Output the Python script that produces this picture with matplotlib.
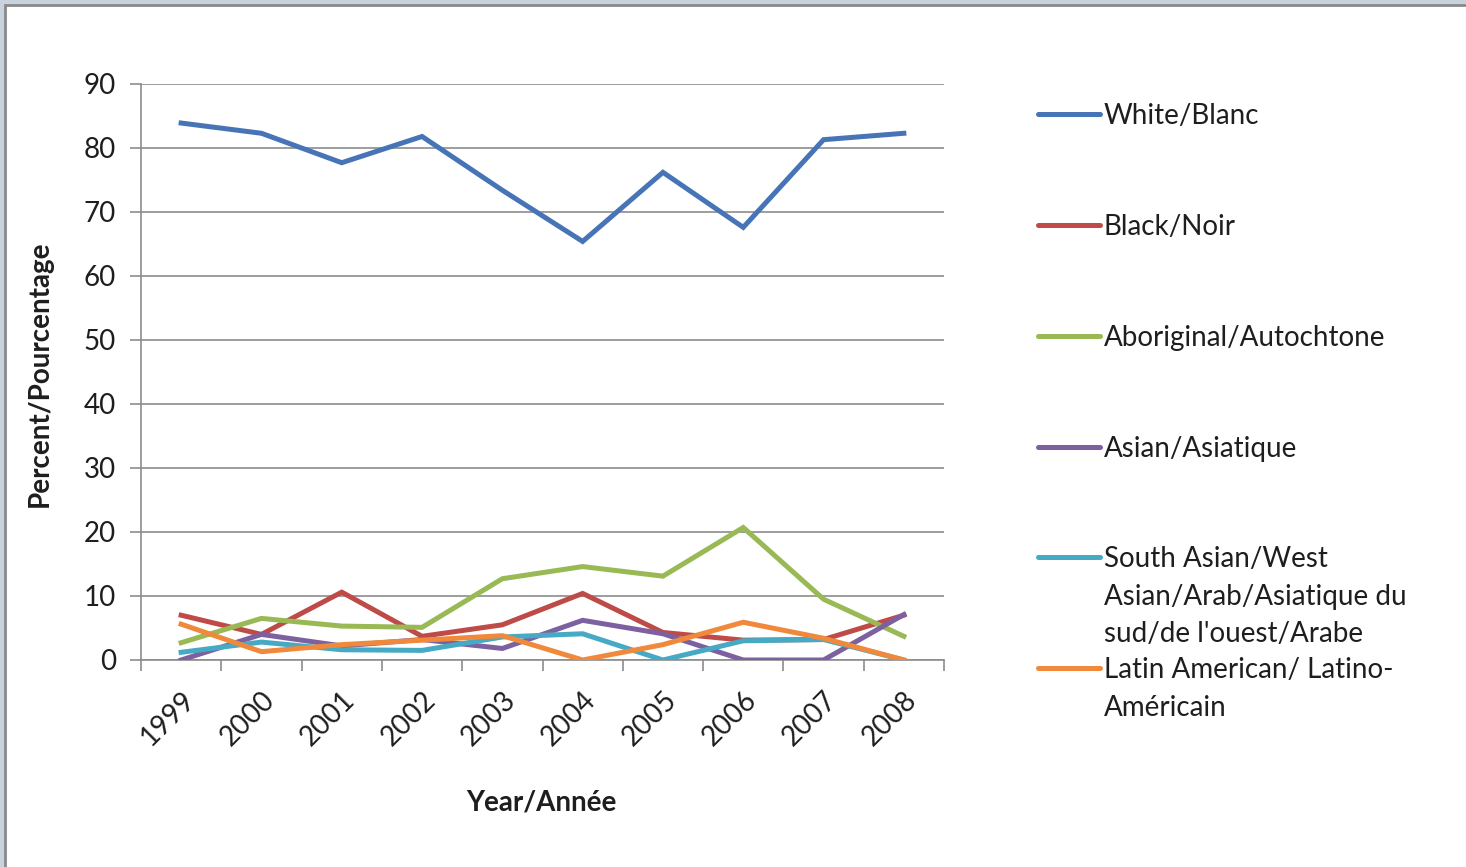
import matplotlib
matplotlib.use("Agg")
import matplotlib.pyplot as plt
from matplotlib.lines import Line2D
from matplotlib.patches import Rectangle
import numpy as np

plt.rcParams["font.family"] = ["Lato", "DejaVu Sans"]

years = ["1999", "2000", "2001", "2002", "2003", "2004", "2005", "2006", "2007", "2008"]

white = [83.9, 82.3, 77.7, 81.8, 73.4, 65.4, 76.2, 67.6, 81.3, 82.3]
black = [7.0, 4.0, 10.6, 3.7, 5.5, 10.4, 4.3, 3.1, 3.2, 7.0]
aboriginal = [2.7, 6.5, 5.3, 5.1, 12.7, 14.6, 13.1, 20.7, 9.5, 3.7]
asian = [0.0, 4.0, 2.2, 3.2, 1.8, 6.2, 4.1, 0.0, 0.0, 7.1]
south_asian = [1.2, 2.8, 1.6, 1.5, 3.6, 4.1, 0.0, 3.0, 3.2, 0.0]
latin = [5.6, 1.3, 2.4, 3.1, 3.8, 0.0, 2.4, 5.9, 3.4, 0.0]

labels = [
    "White/Blanc",
    "Black/Noir",
    "Aboriginal/Autochtone",
    "Asian/Asiatique",
    "South Asian/West\nAsian/Arab/Asiatique du\nsud/de l'ouest/Arabe",
    "Latin American/ Latino-\nAméricain",
]
colors = ["#4674B6", "#BE4B48", "#98B954", "#7D60A0", "#46AAC5", "#F0893C"]
series = [white, black, aboriginal, asian, south_asian, latin]

W, H = 1466, 867
FS = 20
TXT = "#1e1e1e"
fig = plt.figure(figsize=(W / 100, H / 100), dpi=100)

# screenshot frame
fig.patches.append(Rectangle((0, 0), 1, 1, transform=fig.transFigure,
                             facecolor="#c8d3dd", edgecolor="none", zorder=-10))
fig.patches.append(Rectangle((5 / W, -0.01), 1.01, 1 - 5 / H + 0.01, transform=fig.transFigure,
                             facecolor="white", edgecolor="#8a8a8a", linewidth=2, zorder=-9))

ax = fig.add_axes([141 / W, 1 - 660 / H, (944 - 141) / W, (660 - 84) / H])
x = np.arange(len(years))
for vals, c in zip(series, colors):
    ax.plot(x, vals, color=c, linewidth=3.6, solid_joinstyle="miter", zorder=3)

ax.set_xlim(-0.5, len(years) - 0.5)
ax.set_ylim(0, 90)
ax.set_yticks(range(0, 91, 10))
ax.yaxis.grid(True, color="#8c8c8c", linewidth=1.2)
ax.set_axisbelow(True)
for s in ["top", "right"]:
    ax.spines[s].set_visible(False)
for s in ["left", "bottom"]:
    ax.spines[s].set_color("#8c8c8c")
    ax.spines[s].set_linewidth(1.2)

ax.set_xticks(np.arange(-0.5, len(years), 1.0))
ax.set_xticklabels([])
ax.set_xticks(x, minor=True)
ax.set_xticklabels(years, minor=True, rotation=45, ha="right", va="top",
                   rotation_mode="anchor", fontsize=FS, color=TXT)
ax.tick_params(axis="x", which="major", length=8, color="#8c8c8c", width=1.2)
ax.tick_params(axis="x", which="minor", length=0, pad=19)
ax.tick_params(axis="y", length=8, color="#8c8c8c", width=1.2, labelsize=FS,
               labelcolor=TXT, pad=10)

fig.text(40 / W, 1 - 374 / H, "Percent/Pourcentage", rotation=90, ha="center", va="center",
         fontsize=FS, fontweight="bold", color=TXT)
fig.text(541 / W, 1 - 802 / H, "Year/Année", ha="center", va="center",
         fontsize=FS, fontweight="bold", color=TXT)

# legend
legend_y = [114, 225, 336, 447, 557, 668]
for lbl, c, yy in zip(labels, colors, legend_y):
    fy = 1 - yy / H
    fig.add_artist(Line2D([1038 / W, 1100 / W], [fy, fy], color=c, linewidth=3.6,
                          solid_capstyle="round", transform=fig.transFigure))
    fig.text(1104 / W, fy + 11 / H, lbl, ha="left", va="top", fontsize=FS,
             color=TXT, linespacing=1.55)

fig.savefig("out.png", dpi=100)
